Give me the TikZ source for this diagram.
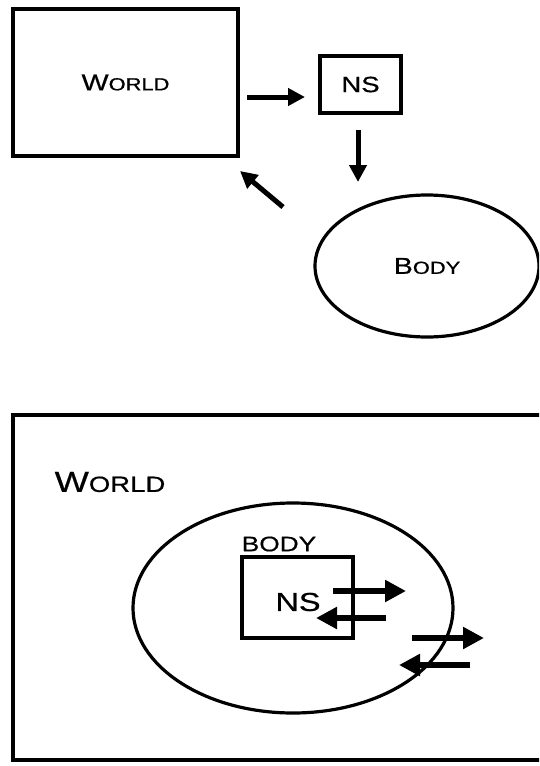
\documentclass[tikz,border=0pt]{standalone}
\usepackage{fontspec}
\usetikzlibrary{shapes.geometric,arrows.meta}
\newfontfamily\capsfont[FakeStretch=1.25,FakeBold=0.6]{Liberation Sans}
% small-caps style label: first letters large, the rest smaller capitals
\newcommand{\smc}[4]{{\capsfont\fontsize{#1}{#1}\selectfont #3\fontsize{#2}{#2}\selectfont #4}}
\tikzset{
  frame/.style={draw=black, line width=3.2pt, inner sep=0pt},
  fatarrow/.style={line width=5pt, -{Triangle[length=17pt,width=17pt]}},
  bigarrow/.style={line width=5.5pt, -{Triangle[length=21pt,width=21pt]}},
}
\begin{document}
\begin{tikzpicture}[x=1pt,y=-1pt]
\clip (0,0) rectangle (539,766);
\fill[white] (0,0) rectangle (539,766);

% ---- upper diagram: loop World -> NS -> Body -> World
\node[frame, rectangle, minimum width=225pt, minimum height=147pt] (world) at (125.5,82.5)
  {\smc{23pt}{17.5pt}{W}{ORLD}};
\node[frame, rectangle, minimum width=81pt, minimum height=57pt] (ns) at (360.5,84.5)
  {\smc{22pt}{22pt}{NS}{}};
\node[frame, ellipse, minimum width=224pt, minimum height=142pt] (body) at (427,266)
  {\smc{23pt}{17.5pt}{B}{ODY}};

\coordinate (a1s) at (247,97);  \coordinate (a1e) at (305,97);
\coordinate (a2s) at (358,130); \coordinate (a2e) at (358,182);
\coordinate (a3s) at (283,207); \coordinate (a3e) at (240,171);
\draw[fatarrow] (a1s) -- (a1e);
\draw[fatarrow] (a2s) -- (a2e);
\draw[fatarrow] (a3s) -- (a3e);

% ---- lower diagram: NS inside Body inside World
\node[frame, rectangle, minimum width=545pt, minimum height=345pt] (world2) at (285.5,587.5) {};
\node at (110,482) {\smc{29pt}{22pt}{W}{ORLD}};
\node[frame, ellipse, minimum width=320pt, minimum height=210pt] (body2) at (293,608) {};
\node[frame, rectangle, minimum width=111pt, minimum height=81pt] (ns2) at (297.5,597.5) {};
\node at (279,544) {\smc{21pt}{21pt}{BODY}{}};
\node at (298,602) {\smc{26pt}{26pt}{NS}{}};

\coordinate (b1s) at (333,591); \coordinate (b1e) at (406,591);
\coordinate (b2s) at (386,618); \coordinate (b2e) at (316,618);
\coordinate (b3s) at (412,638); \coordinate (b3e) at (484,638);
\coordinate (b4s) at (470,665); \coordinate (b4e) at (399,665);
\draw[bigarrow] (b1s) -- (b1e);
\draw[bigarrow] (b2s) -- (b2e);
\draw[bigarrow] (b3s) -- (b3e);
\draw[bigarrow] (b4s) -- (b4e);
\end{tikzpicture}
\end{document}
